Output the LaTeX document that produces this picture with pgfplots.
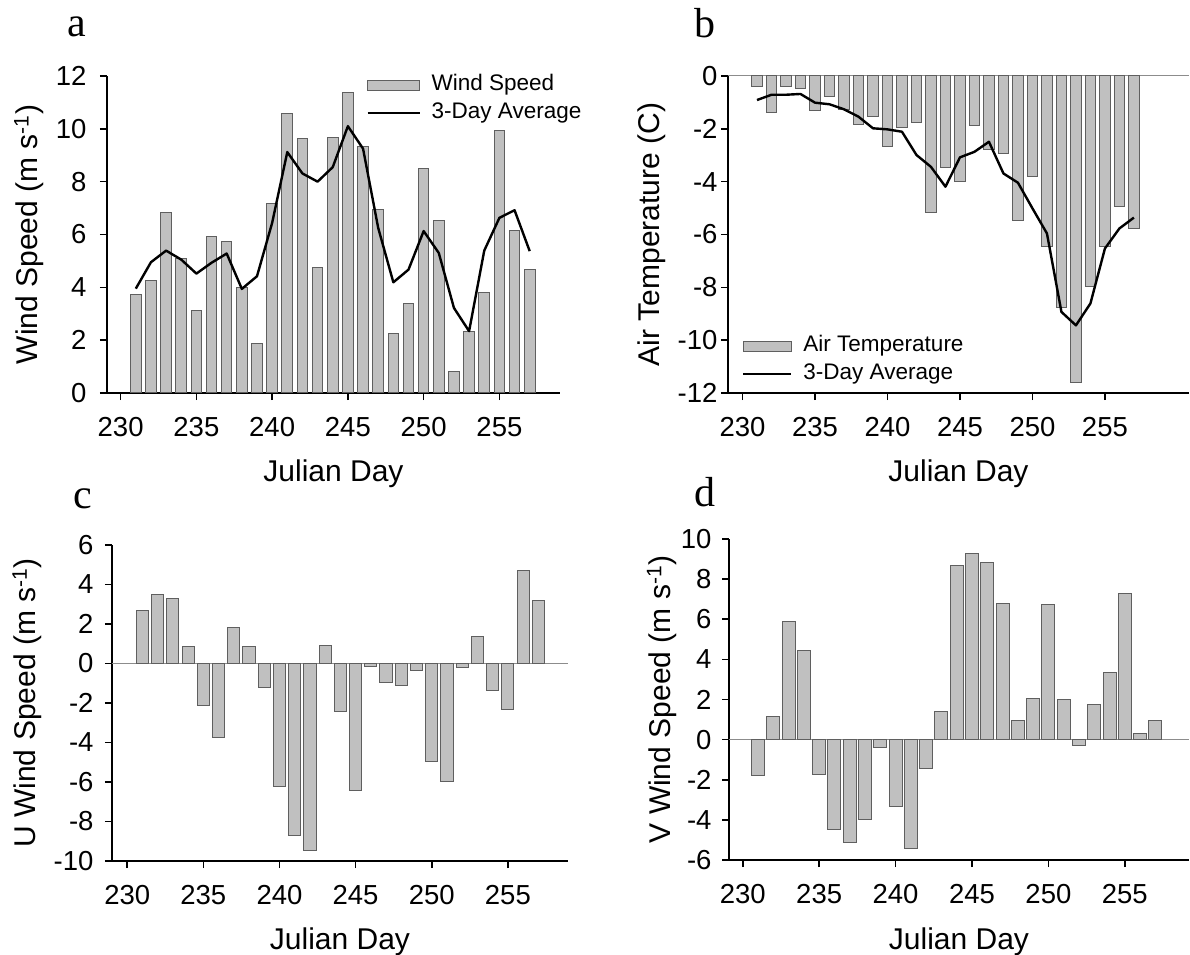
\documentclass[border=0pt]{standalone}
\usepackage{fontspec}
\setmainfont{Liberation Sans}
\newfontfamily\seriffont{Liberation Serif}
\usepackage{pgfplots}
\pgfplotsset{compat=1.18}

\definecolor{barfill}{RGB}{192,192,192}
\definecolor{baredge}{RGB}{95,95,95}
\definecolor{zerogray}{RGB}{140,140,140}

\pgfplotsset{
  panel/.style={
    scale only axis,
    axis x line*=bottom, axis y line*=left,
    axis line style={-, line width=2pt, black},
    tick align=outside,
    major tick length=7pt,
    tick style={black, line width=1.6pt},
    xtick={230,235,...,255},
    minor tick num=0,
    /pgf/number format/assume math mode=true,
    /pgf/number format/1000 sep={},
    scaled ticks=false,
    tick label style={font=\fontsize{27.5}{30}\selectfont},
    xticklabel style={yshift=-14pt},
    label style={font=\fontsize{30}{34}\selectfont},
    xlabel={Julian Day},
    xlabel style={at={(axis description cs:0.5,-0.255)}, anchor=center},
    clip=false,
    legend cell align=left,
  },
  mylegend/.style={
    legend style={draw=none, fill=none, inner sep=0pt, column sep=10pt, row sep=5pt,
      font=\fontsize{22.5}{26}\selectfont,
      nodes={inner sep=1pt, text height=16pt, text depth=5pt, anchor=west}},
  },
}

\begin{document}
\begin{tikzpicture}
\useasboundingbox (0pt,0pt) rectangle (1190pt,954pt);

% ---------------- a ----------------
\begin{axis}[panel, at={(107pt,561pt)}, anchor=south west,
  width=453pt, height=317pt,
  xmin=229.1, xmax=259, ymin=0, ymax=12, ytick={0,2,...,12},
  yticklabel style={xshift=-10pt},
  ylabel={Wind Speed (m s\textsuperscript{-1})},
  ylabel style={at={(axis description cs:-0.172,0.5)}, anchor=center},
  mylegend,
  legend style={at={(0.572,1.008)}, anchor=north west},
]
\addplot[ybar, bar width=0.7, bar shift=0pt, fill=barfill, draw=baredge, line width=1pt,
  legend image code/.code={\draw[fill=barfill,draw=baredge,line width=1pt] (0pt,-5pt) rectangle (52pt,5pt);}]
coordinates {
(231,3.73)(232,4.26)(233,6.85)(234,5.08)(235,3.13)(236,5.94)(237,5.75)(238,4.00)(239,1.89)
(240,7.16)(241,10.58)(242,9.62)(243,4.74)(244,9.66)(245,11.39)(246,9.32)(247,6.95)(248,2.27)
(249,3.37)(250,8.49)(251,6.53)(252,0.80)(253,2.34)(254,3.79)(255,9.94)(256,6.16)(257,4.67)};
\addlegendentry{Wind Speed}
\addplot[black, line width=2.4pt, mark=none, line join=round,
  legend image code/.code={\draw[black,line width=2.4pt] (0pt,0pt) -- (52pt,0pt);}]
coordinates {
(231,3.95)(232,4.95)(233,5.39)(234,5.05)(235,4.52)(236,4.93)(237,5.28)(238,3.94)(239,4.42)
(240,6.44)(241,9.12)(242,8.31)(243,8.00)(244,8.55)(245,10.10)(246,9.25)(247,6.25)(248,4.19)
(249,4.67)(250,6.13)(251,5.30)(252,3.22)(253,2.34)(254,5.39)(255,6.63)(256,6.92)(257,5.37)};
\addlegendentry{3-Day Average}
\end{axis}

% ---------------- b ----------------
\begin{axis}[panel, at={(728pt,561pt)}, anchor=south west,
  width=461pt, height=317pt,
  xmin=229, xmax=260.8, ymin=-12, ymax=0, ytick={-12,-10,...,0},
  ylabel={Air Temperature (C)},
  ylabel style={at={(axis description cs:-0.165,0.5)}, anchor=center},
  mylegend,
  legend style={at={(0.030,0.185)}, anchor=north west},
]
\addplot[zerogray, line width=1pt, forget plot] coordinates {(229,0)(260.8,0)};
\addplot[ybar, bar width=0.7, bar shift=0pt, fill=barfill, draw=baredge, line width=1pt,
  legend image code/.code={\draw[fill=barfill,draw=baredge,line width=1pt] (0pt,-5pt) rectangle (48pt,5pt);}]
coordinates {
(231,-0.40)(232,-1.38)(233,-0.40)(234,-0.47)(235,-1.31)(236,-0.76)(237,-1.25)(238,-1.83)(239,-1.54)
(240,-2.65)(241,-1.95)(242,-1.76)(243,-5.18)(244,-3.46)(245,-4.00)(246,-1.88)(247,-2.80)(248,-2.93)
(249,-5.46)(250,-3.81)(251,-6.47)(252,-8.77)(253,-11.62)(254,-7.96)(255,-6.44)(256,-4.95)(257,-5.77)};
\addlegendentry{Air Temperature}
\addplot[black, line width=2.4pt, mark=none, line join=round,
  legend image code/.code={\draw[black,line width=2.4pt] (0pt,0pt) -- (48pt,0pt);}]
coordinates {
(231,-0.91)(232,-0.71)(233,-0.71)(234,-0.68)(235,-1.01)(236,-1.07)(237,-1.26)(238,-1.54)(239,-1.98)
(240,-2.02)(241,-2.11)(242,-2.99)(243,-3.44)(244,-4.19)(245,-3.08)(246,-2.87)(247,-2.49)(248,-3.69)
(249,-4.04)(250,-5.01)(251,-5.96)(252,-8.93)(253,-9.44)(254,-8.61)(255,-6.53)(256,-5.77)(257,-5.36)};
\addlegendentry{3-Day Average}
\end{axis}

% ---------------- c ----------------
\begin{axis}[panel, at={(112pt,93pt)}, anchor=south west,
  width=456pt, height=316pt,
  xmin=229, xmax=258.95, ymin=-10, ymax=6, ytick={-10,-8,...,6},
  yticklabel style={xshift=-8pt},
  ylabel={U Wind Speed (m s\textsuperscript{-1})},
  ylabel style={at={(axis description cs:-0.186,0.5)}, anchor=center},
]
\addplot[zerogray, line width=1pt, forget plot] coordinates {(229,0)(258.95,0)};
\addplot[ybar, bar width=0.8, bar shift=0pt, fill=barfill, draw=baredge, line width=1pt]
coordinates {
(231,2.70)(232,3.48)(233,3.29)(234,0.84)(235,-2.15)(236,-3.75)(237,1.82)(238,0.84)(239,-1.23)
(240,-6.25)(241,-8.70)(242,-9.46)(243,0.91)(244,-2.42)(245,-6.42)(246,-0.14)(247,-0.96)(248,-1.13)
(249,-0.34)(250,-4.98)(251,-5.95)(252,-0.22)(253,1.35)(254,-1.35)(255,-2.33)(256,4.70)(257,3.18)};
\end{axis}

% ---------------- d ----------------
\begin{axis}[panel, at={(729pt,94pt)}, anchor=south west,
  width=460pt, height=321pt,
  xmin=229.1, xmax=259.2, ymin=-6, ymax=10, ytick={-6,-4,...,10},
  yticklabel style={xshift=-7pt},
  ylabel={V Wind Speed (m s\textsuperscript{-1})},
  ylabel style={at={(axis description cs:-0.146,0.5)}, anchor=center},
]
\addplot[zerogray, line width=1pt, forget plot] coordinates {(229.1,0)(259.2,0)};
\addplot[ybar, bar width=0.85, bar shift=0pt, fill=barfill, draw=baredge, line width=1pt]
coordinates {
(231,-1.79)(232,1.15)(233,5.91)(234,4.44)(235,-1.73)(236,-4.47)(237,-5.12)(238,-3.97)(239,-0.40)
(240,-3.31)(241,-5.43)(242,-1.46)(243,1.40)(244,8.69)(245,9.29)(246,8.81)(247,6.80)(248,0.93)
(249,2.06)(250,6.76)(251,1.98)(252,-0.27)(253,1.74)(254,3.36)(255,7.29)(256,0.33)(257,0.93)};
\end{axis}

% panel letters
\node[anchor=base, font=\seriffont\fontsize{42}{46}\selectfont] at (77pt,917pt) {a};
\node[anchor=base, font=\seriffont\fontsize{42}{46}\selectfont] at (705pt,916pt) {b};
\node[anchor=base, font=\seriffont\fontsize{42}{46}\selectfont] at (83pt,446pt) {c};
\node[anchor=base, font=\seriffont\fontsize{42}{46}\selectfont] at (705pt,447pt) {d};
\end{tikzpicture}
\end{document}
